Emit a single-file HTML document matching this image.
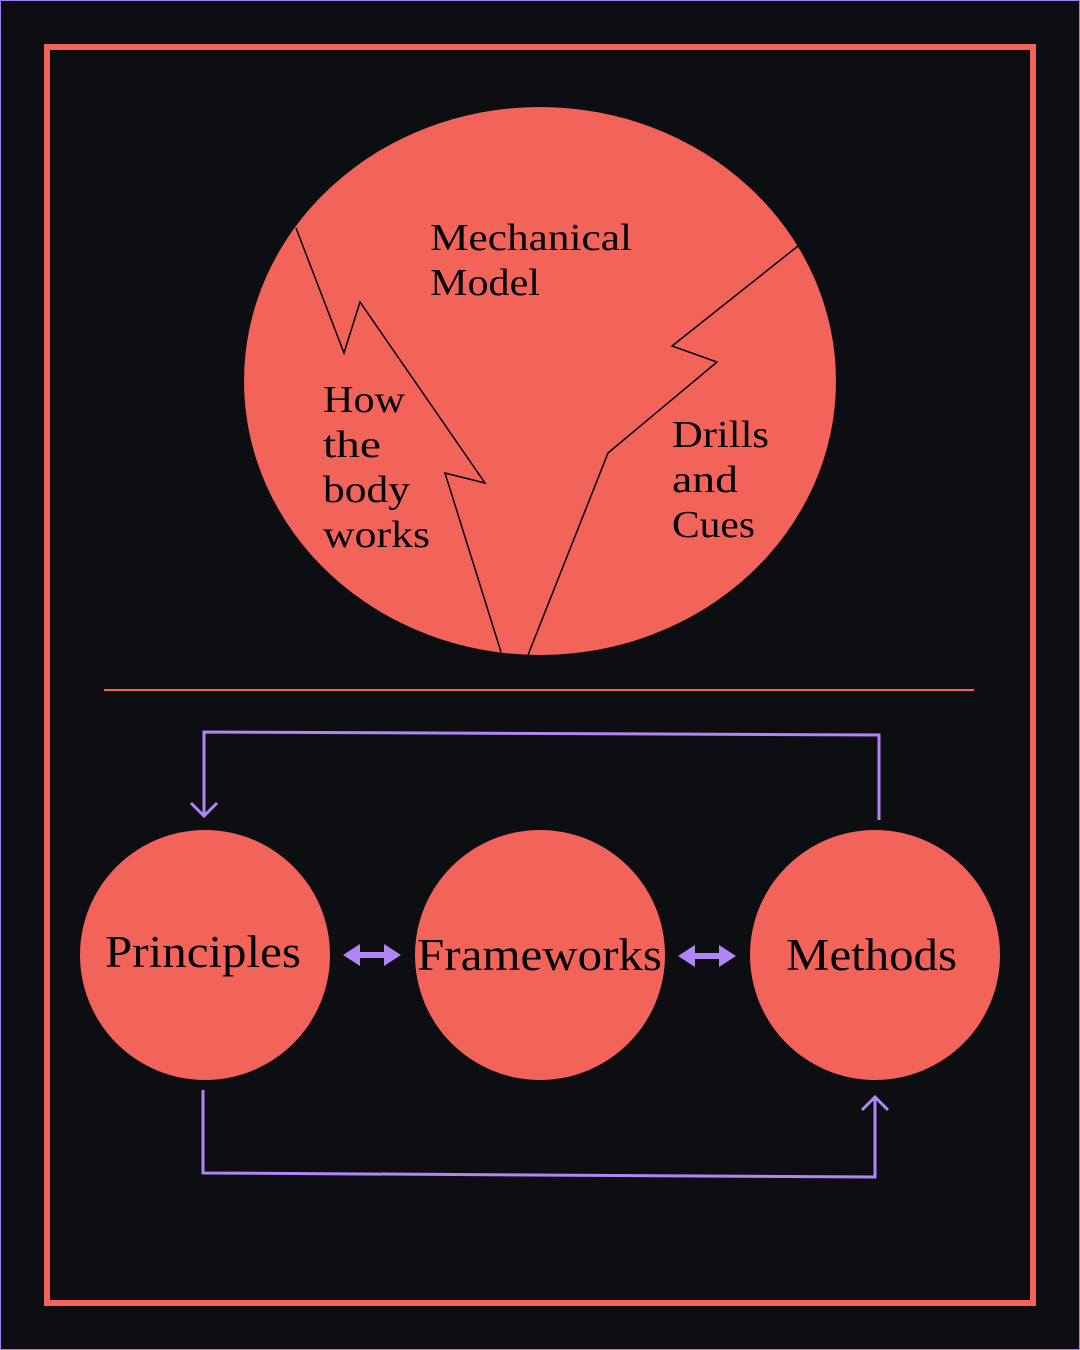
<!DOCTYPE html>
<html><head><style>
html,body{margin:0;padding:0;background:#0d0e12;}
svg{display:block}
text{font-family:"Liberation Serif",serif;fill:#000;}
</style></head><body>
<svg width="1080" height="1350" viewBox="0 0 1080 1350">
<rect x="0.5" y="0.5" width="1079" height="1349" fill="#0d0e12" stroke="#a07ef0" stroke-width="1"/>
<rect x="47" y="47" width="986" height="1256" fill="none" stroke="#f2645a" stroke-width="6"/>
<ellipse cx="540" cy="381" rx="296" ry="274" fill="#f2645a"/>
<polyline points="296,228 344,353 360,302 485,483 445,473 501,652" fill="none" stroke="#000" stroke-width="1.5"/>
<polyline points="798,246 672,346 717,362 608,453 528,655" fill="none" stroke="#000" stroke-width="1.5"/>
<g font-size="38" lengthAdjust="spacingAndGlyphs">
<text x="430" y="250" textLength="202" lengthAdjust="spacingAndGlyphs">Mechanical</text>
<text x="430" y="295" textLength="110" lengthAdjust="spacingAndGlyphs">Model</text>
<text x="323" y="412" textLength="82" lengthAdjust="spacingAndGlyphs">How</text>
<text x="323" y="457" textLength="58" lengthAdjust="spacingAndGlyphs">the</text>
<text x="323" y="502" textLength="87" lengthAdjust="spacingAndGlyphs">body</text>
<text x="323" y="547" textLength="107" lengthAdjust="spacingAndGlyphs">works</text>
<text x="672" y="447" textLength="97" lengthAdjust="spacingAndGlyphs">Drills</text>
<text x="672" y="492" textLength="66" lengthAdjust="spacingAndGlyphs">and</text>
<text x="672" y="537" textLength="83" lengthAdjust="spacingAndGlyphs">Cues</text>
</g>
<line x1="104" y1="690" x2="974" y2="690" stroke="#f2645a" stroke-width="2"/>
<circle cx="205" cy="955" r="125" fill="#f2645a"/>
<circle cx="540" cy="955" r="125" fill="#f2645a"/>
<circle cx="875" cy="955" r="125" fill="#f2645a"/>
<text x="105" y="967" font-size="45" textLength="196" lengthAdjust="spacingAndGlyphs">Principles</text>
<text x="417" y="970" font-size="45" textLength="245" lengthAdjust="spacingAndGlyphs">Frameworks</text>
<text x="786" y="970" font-size="45" textLength="171" lengthAdjust="spacingAndGlyphs">Methods</text>
<g fill="#b085f5">
<polygon points="343,955 360,944 360,952 384,952 384,944 401,955 384,966 384,958 360,958 360,966"/>
<polygon points="678,956 695,945 695,953 719,953 719,945 736,956 719,967 719,959 695,959 695,967"/>
</g>
<g fill="none" stroke="#b085f5" stroke-width="3">
<polyline points="879,820 879,735 204,732 204,815"/>
<polyline points="191,803 204,816 217,803"/>
<polyline points="203,1090 203,1173 875,1177 875,1097"/>
<polyline points="862,1110 875,1097 888,1110"/>
</g>
</svg>
</body></html>
